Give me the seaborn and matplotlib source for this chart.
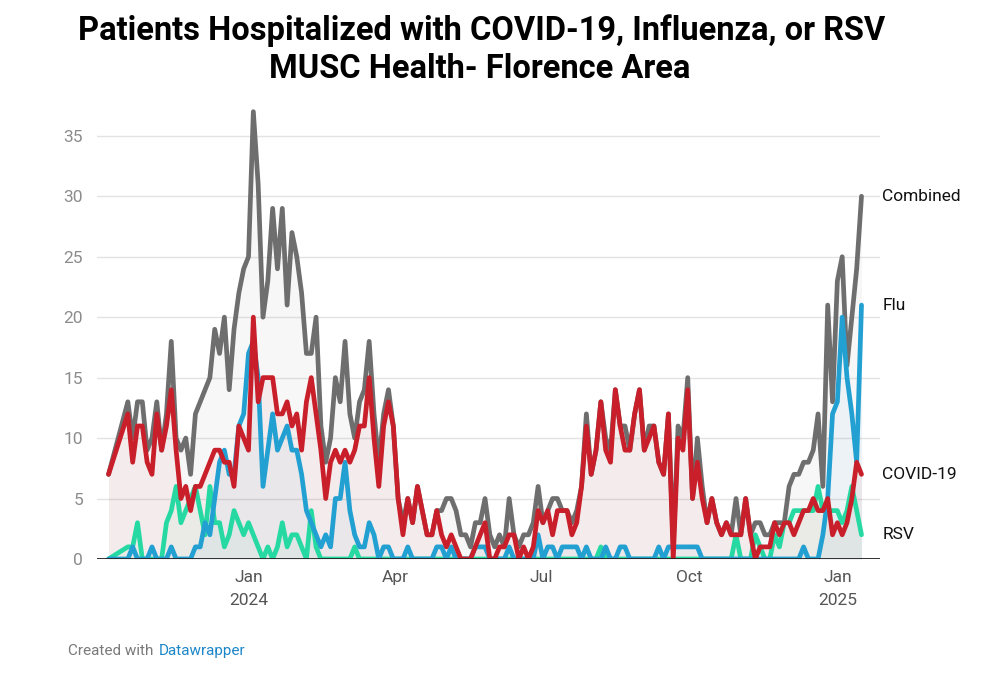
import numpy as np
import pandas as pd
import seaborn as sns
import matplotlib.pyplot as plt
import matplotlib.transforms as mtransforms

# Readings every 3 days from 2023-10-06 (None = no report that day)
start_date = "2023-10-06"

combined = [
    7, None, None, None, 13, 10, 13, 13, 9, 10, 13, 9, 12, 18, 10, 9, 10, 7, 12, 13,
    14, 15, 19, 17, 20, 14, 19, 22, 24, 25, 37, 31, 20, 23, 29, 24, 29, 21, 27, 25,
    22, 17, 17, 20, 11, 8, 10, 15, 13, 18, 12, 10, 13, 14, 18, 12, 8, 12, 14, 11,
    5, 3, 5, 3, 6, 4, 2, 2, 4, 4, 5, 5, 4, 2, 2, 1, 3, 3, 5, 2,
    1, 2, 1, 5, 2, 1, 2, 2, 3, 6, 3, 4, 5, 5, 4, 4, 3, 4, 6, 12,
    7, 9, 13, 10, 9, 14, 11, 11, 9, 12, 14, 9, 11, 11, 8, 7, 12, 1, 11, 10,
    15, 5, 10, 6, 3, 5, 3, 2, 3, 2, 5, 2, 5, 2, 3, 3, 2, 2, 3, 3,
    3, 6, 7, 7, 8, 8, 9, 12, 6, 21, 13, 23, 25, 16, 20, 24, 30,
]
covid = [
    7, None, None, None, 12, 8, 11, 11, 8, 7, 12, 9, 11, 14, 9, 5, 6, 4, 6, 6,
    7, 8, 9, 9, 8, 8, 6, 11, 10, 9, 20, 13, 15, 15, 15, 12, 12, 13, 11, 12,
    9, 13, 15, 12, 9, 5, 8, 9, 8, 9, 8, 9, 11, 11, 15, 10, 6, 11, 13, 11,
    5, 2, 5, 3, 6, 4, 2, 2, 4, 2, 1, 2, 1, 0, 0, 0, 1, 2, 3, 0,
    0, 1, 1, 2, 2, 0, 1, 0, 1, 4, 3, 4, 2, 4, 4, 4, 2, 3, 6, 11,
    7, 9, 13, 9, 8, 14, 11, 9, 9, 12, 14, 9, 10, 11, 8, 7, 12, 0, 10, 9,
    14, 5, 8, 5, 3, 5, 3, 2, 3, 2, 2, 2, 5, 2, 0, 1, 1, 1, 3, 2,
    3, 3, 2, 3, 4, 4, 5, 4, 4, 5, 2, 3, 2, 3, 5, 8, 7,
]
flu = [
    0, None, None, None, 0, 1, 0, 0, 0, 1, 0, 0, 0, 1, 0, 0, 0, 0, 1, 1,
    3, 2, 5, 8, 9, 7, 7, 11, 12, 17, 18, 15, 6, 9, 12, 9, 10, 11, 9, 9,
    7, 4, 3, 2, 1, 2, 1, 5, 5, 8, 4, 2, 1, 1, 3, 2, 0, 1, 1, 0,
    0, 0, 1, 0, 0, 0, 0, 0, 1, 1, 0, 1, 0, 0, 0, 0, 1, 1, 1, 0,
    0, 0, 0, 1, 0, 0, 0, 0, 0, 2, 0, 1, 1, 0, 1, 1, 1, 1, 0, 1,
    0, 0, 0, 1, 0, 0, 1, 1, 0, 0, 0, 0, 0, 0, 1, 0, 1, 1, 1, 1,
    1, 1, 1, 0, 0, 0, 0, 0, 0, 0, 0, 0, 0, 0, 0, 0, 0, 0, 0, 0,
    0, 0, 0, 0, 1, 0, 0, 0, 2, 5, 12, 13, 20, 15, 12, 8, 21,
]
rsv = [
    0, None, None, None, 1, 1, 3, 0, 0, 0, 0, 0, 3, 4, 6, 3, 4, 5, 6, 4,
    2, 6, 3, 3, 1, 2, 4, 3, 2, 3, 2, 1, 0, 1, 0, 1, 3, 1, 2, 2,
    1, 0, 4, 1, 0, 0, 0, 0, 0, 0, 0, 1, 0, 0, 0, 0, 0, 0, 0, 0,
    0, 0, 0, 0, 0, 0, 0, 0, 0, 0, 0, 0, 0, 0, 0, 0, 0, 0, 0, 0,
    0, 0, 0, 0, 0, 0, 0, 0, 0, 0, 0, 0, 0, 0, 0, 0, 0, 0, 0, 0,
    0, 0, 1, 0, 0, 0, 0, 0, 0, 0, 0, 0, 0, 0, 0, 0, 0, 0, 0, 0,
    0, 0, 0, 0, 0, 0, 0, 0, 0, 0, 2, 0, 0, 0, 2, 1, 0, 0, 2, 1,
    3, 3, 4, 4, 4, 4, 4, 6, 4, 4, 4, 4, 3, 4, 6, 4, 2,
]

series_names = ["Combined", "RSV", "Flu", "COVID-19"]
tick_dates = ["2024-01-01", "2024-04-01", "2024-07-01", "2024-10-01", "2025-01-01"]
tick_labels = ["Jan\n2024", "Apr", "Jul", "Oct", "Jan\n2025"]
y_ticks = [0, 5, 10, 15, 20, 25, 30, 35]

colors = {
    "Combined": "#6e6e6e",
    "RSV": "#26d9a3",
    "Flu": "#23a0d2",
    "COVID-19": "#c81f2a",
}

# build long table
dates = pd.date_range(start_date, periods=len(combined), freq="3D")
wide = pd.DataFrame(
    {"Combined": combined, "RSV": rsv, "Flu": flu, "COVID-19": covid}, index=dates
)
wide.index.name = "date"
df = wide.reset_index().melt(id_vars="date", var_name="series", value_name="patients")
df = df.dropna()

sns.set_theme(style="white")
plt.rcParams["font.family"] = ["Roboto", "DejaVu Sans"]

fig = plt.figure(figsize=(10, 6.75), dpi=100)
ax = fig.add_axes([0.097, 0.1719, 0.783, 0.6806])

# light fill under each line
for name in series_names:
    s = df[df["series"] == name]
    ax.fill_between(s["date"], 0, s["patients"], color=colors[name], alpha=0.05, lw=0)

sns.lineplot(
    data=df,
    x="date",
    y="patients",
    hue="series",
    hue_order=series_names,
    palette=colors,
    linewidth=3.4,
    legend=False,
    ax=ax,
)

ax.set_ylim(0, 38)
ax.set_xlim(pd.Timestamp("2023-09-28 20:00"), pd.Timestamp("2025-01-27 12:00"))
ax.set_yticks(y_ticks)
ax.set_yticklabels([str(v) for v in y_ticks], color="#8c8c8c", fontsize=12.5)
ax.set_xticks(pd.to_datetime(tick_dates))
ax.set_xticklabels(tick_labels, color="#555555", fontsize=12.5, linespacing=1.7)
ax.tick_params(axis="both", length=0)
ax.tick_params(axis="y", pad=10)
ax.tick_params(axis="x", pad=8)
ax.set_xlabel("")
ax.set_ylabel("")
ax.yaxis.grid(True, color="#e3e3e3", lw=1)
ax.set_axisbelow(True)
for sp in ax.spines.values():
    sp.set_visible(False)
ax.axhline(0, color="#222222", lw=1.3, zorder=5)

# end-of-line labels
trans = mtransforms.blended_transform_factory(ax.transAxes, ax.transData)
last_vals = {"Combined": combined[-1], "Flu": flu[-1], "COVID-19": covid[-1], "RSV": rsv[-1]}
for name, v in last_vals.items():
    ax.text(1.003, v, name, transform=trans, ha="left", va="center",
            fontsize=12.5, color="#111111", clip_on=False)

fig.text(0.482, 1 - 31 / 675, "Patients Hospitalized with COVID-19, Influenza, or RSV",
         ha="center", va="center", fontsize=23.5, fontweight="bold", color="black")
fig.text(0.48, 1 - 69 / 675, "MUSC Health- Florence Area",
         ha="center", va="center", fontsize=23.5, fontweight="bold", color="black")

fig.text(0.068, 1 - 651 / 675, "Created with", ha="left", va="center",
         fontsize=11, color="#7a7a7a")
fig.text(0.159, 1 - 651 / 675, "Datawrapper", ha="left", va="center",
         fontsize=11, color="#1d86c8")

fig.savefig("out.png", dpi=100, facecolor="white")
